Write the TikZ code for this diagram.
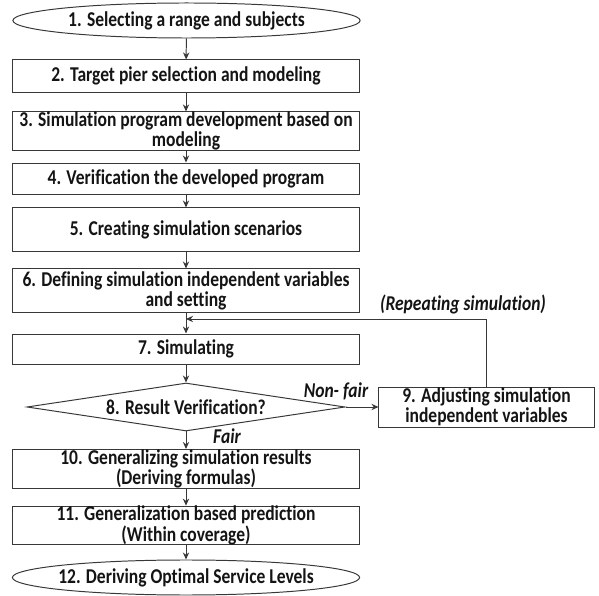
\documentclass[tikz,border=0pt]{standalone}
\usepackage{fontspec}
\usepackage{tikz}
\setmainfont{Carlito}[FakeStretch=0.83, Ligatures={NoCommon}]
\usetikzlibrary{shapes.geometric, arrows.meta}
\definecolor{ln}{HTML}{383838}
\definecolor{txt}{HTML}{141414}

\begin{document}
\begin{tikzpicture}[x=0.025cm, y=-0.025cm,
        every node/.style={text=txt, font=\bfseries\fontsize{15}{12}\selectfont},
        box/.style={draw=ln, line width=0.7pt, rectangle, minimum width=8.65cm, inner sep=0pt, align=center},
        term/.style={draw=ln, line width=0.7pt, ellipse, minimum width=8.68cm, minimum height=0.875cm, inner xsep=-0.6cm, inner ysep=0pt},
        test/.style={draw=ln, line width=0.7pt, diamond, aspect=6.6, minimum width=7.95cm, minimum height=1.2cm, inner sep=0pt},
        flow/.style={draw=ln, line width=0.7pt, -{Stealth[length=5pt, width=4.5pt]}},
        note/.style={font=\bfseries\itshape\fontsize{15}{12}\selectfont}]
	\useasboundingbox (0, 0) rectangle (599, 596);
	\node [term] (n1) at (186.5, 20.5) {1. Selecting a range and subjects};
	\node [box, minimum height=0.8cm] (n2) at (186, 76) {2. Target pier selection and modeling};
	\node [box, minimum height=0.95cm] (n3) at (186, 131) {3. Simulation program development based on\\modeling};
	\node [box, minimum height=0.775cm] (n4) at (186, 178.5) {4. Verification the developed program};
	\node [box, minimum height=1.075cm] (n5) at (186, 229.5) {5. Creating simulation scenarios};
	\node [box, minimum height=1.075cm] (n6) at (186, 290.5) {6. Defining simulation independent variables\\and setting};
	\node [box, minimum height=0.75cm] (n7) at (186, 349) {7. Simulating};
	\node [test] (n8) at (186, 407) {8. Result Verification?};
	\node [box, minimum width=5.375cm, minimum height=1cm] (n9) at (486.5, 407) {9. Adjusting simulation\\independent variables};
	\node [box, minimum height=0.95cm] (n10) at (186, 469) {10. Generalizing simulation results\\(Deriving formulas)};
	\node [box, minimum height=0.875cm] (n11) at (186, 525.5) {11. Generalization based prediction\\(Within coverage)};
	\node [term] (n12) at (186, 577.5) {12. Deriving Optimal Service Levels};
	\coordinate (loop) at (186, 319);

	\draw [flow] (n1) -- (n2);
	\draw [flow] (n2) -- (n3);
	\draw [flow] (n3) -- (n4);
	\draw [flow] (n4) -- (n5);
	\draw [flow] (n5) -- (n6);
	\draw [flow] (n6) -- (n7);
	\draw [flow] (n7) -- (n8);
	\draw [flow] (n8) -- (n9);
	\draw [flow] (n8) -- (n10);
	\draw [flow] (n10) -- (n11);
	\draw [flow] (n11) -- (n12);
	\draw [flow] (n9.north) |- (loop);

	\node [note] (rep) at (463, 304) {(Repeating simulation)};
	\node [note] (nf) at (336, 391) {Non- fair};
	\node [note] (ok) at (227, 436.5) {Fair};
\end{tikzpicture}
\end{document}
